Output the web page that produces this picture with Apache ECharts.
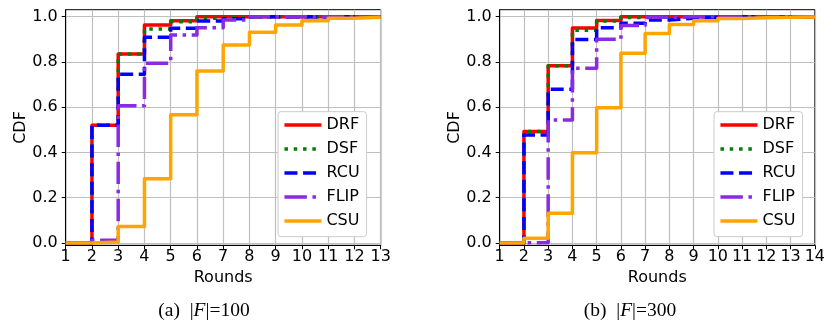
<!DOCTYPE html>
<html>
<head>
<meta charset="utf-8">
<script src="https://cdn.jsdelivr.net/npm/echarts@6/dist/echarts.min.js"></script>
<style>
html,body{margin:0;padding:0;background:#fff;}
#chart{width:828px;height:331px;}
</style>
</head>
<body>
<div id="chart"></div>
<script>
// ---- data ----
const seriesNames = ['DRF', 'DSF', 'RCU', 'FLIP', 'CSU'];
const yTicks = [0, 0.2, 0.4, 0.6, 0.8, 1.0];

// (a) |F|=100
const rounds100 = [1, 2, 3, 4, 5, 6, 7, 8, 9, 10, 11, 12, 13];
const drf100  = [0, 0.520, 0.835, 0.963, 0.982, 1, 1, 1, 1, 1, 1, 1, 1];
const dsf100  = [0, 0.520, 0.835, 0.946, 0.978, 0.993, 1, 1, 1, 1, 1, 1, 1];
const rcu100  = [0, 0.520, 0.746, 0.909, 0.949, 0.981, 0.991, 1, 1, 1, 1, 1, 1];
const flip100 = [0, 0.012, 0.606, 0.794, 0.919, 0.951, 0.985, 1, 1, 1, 1, 1, 1];
const csu100  = [0, 0.004, 0.073, 0.284, 0.566, 0.760, 0.875, 0.931, 0.963, 0.982, 0.993, 0.998, 1];

// (b) |F|=300
const rounds300 = [1, 2, 3, 4, 5, 6, 7, 8, 9, 10, 11, 12, 13, 14];
const drf300  = [0, 0.492, 0.783, 0.950, 0.983, 1, 1, 1, 1, 1, 1, 1, 1, 1];
const dsf300  = [0, 0.492, 0.783, 0.940, 0.981, 0.996, 1, 1, 1, 1, 1, 1, 1, 1];
const rcu300  = [0, 0.477, 0.679, 0.899, 0.951, 0.971, 0.985, 0.993, 0.997, 1, 1, 1, 1, 1];
const flip300 = [0, 0.002, 0.543, 0.772, 0.900, 0.961, 0.997, 1, 1, 1, 1, 1, 1, 1];
const csu300  = [0, 0.021, 0.131, 0.399, 0.597, 0.838, 0.926, 0.965, 0.982, 0.992, 0.995, 0.997, 0.999, 1];

const captionA = '(a)';
const captionB = '(b)';
const sizeA = '100';
const sizeB = '300';

// ---- styles ----
const FONT = 'DejaVu Sans';
const LW = 3.5;
const styles = {
  DRF:  {color: '#ff0000', type: 'solid'},
  DSF:  {color: '#008000', type: [3.5, 5.8]},
  RCU:  {color: '#0000ff', type: [13, 5.6]},
  FLIP: {color: '#8a2be2', type: [22.4, 5.6, 3.5, 5.6]},
  CSU:  {color: '#ffa500', type: 'solid'}
};

function zip(xs, ys) { return xs.map((x, i) => [x, ys[i]]); }

const yMin = -0.0106, yMax = 1.0309;

function makeX(idx, max) {
  return {
    type: 'value', gridIndex: idx, min: 1, max: max, interval: 1,
    name: 'Rounds', nameLocation: 'middle', nameGap: 24,
    nameTextStyle: {fontFamily: FONT, fontSize: 16, color: '#000'},
    axisLine: {show: true, onZero: false, lineStyle: {color: '#000', width: 1}},
    axisTick: {show: true, inside: false, length: 4, lineStyle: {color: '#000', width: 1}},
    axisLabel: {margin: 4, fontFamily: FONT, fontSize: 16, color: '#000'},
    splitLine: {show: true, lineStyle: {color: '#bfbfbf', width: 1.2}}
  };
}
function makeY(idx) {
  return {
    type: 'value', gridIndex: idx, min: yMin, max: yMax,
    name: 'CDF', nameLocation: 'middle', nameGap: 36,
    nameTextStyle: {fontFamily: FONT, fontSize: 16, color: '#000'},
    axisLine: {show: true, onZero: false, lineStyle: {color: '#000', width: 1}},
    axisTick: {show: true, inside: false, length: 4, customValues: yTicks, lineStyle: {color: '#000', width: 1}},
    axisLabel: {margin: 8, customValues: yTicks, fontFamily: FONT, fontSize: 16, color: '#000',
      formatter: v => Number(v).toFixed(1)},
    splitLine: {show: true, lineStyle: {color: '#bfbfbf', width: 1.2}}
  };
}

function makeSeries(idx, rounds, arrs) {
  return seriesNames.map((n, i) => ({
    name: n, type: 'line', step: 'end', xAxisIndex: idx, yAxisIndex: idx,
    symbol: 'none', showSymbol: false, animation: false, clip: true,
    color: styles[n].color,
    lineStyle: {color: styles[n].color, width: LW, type: styles[n].type, cap: 'butt', join: 'round'},
    data: zip(rounds, arrs[i]),
    z: 2 + i
  }));
}

function makeLegend(left) {
  return {
    orient: 'vertical', left: left, top: 111.7,
    data: seriesNames,
    itemWidth: 37, itemHeight: 14, itemGap: 8, itemTextGap: 11.7,
    padding: [5.3, 6.9, 7.7, 4.7],
    backgroundColor: '#ffffff', borderColor: '#cccccc', borderWidth: 1, borderRadius: 3,
    textStyle: {fontFamily: FONT, fontSize: 16, color: '#000'},
    itemStyle: {opacity: 0, borderWidth: 0},
    lineStyle: {width: LW, opacity: 1},
    selectedMode: false
  };
}

const serif = {fontFamily: 'Liberation Serif', fontSize: 19.5, fill: '#000'};
const chart = echarts.init(document.getElementById('chart'), null, {renderer: 'canvas'});
const option = {
  backgroundColor: '#ffffff',
  animation: false,
  grid: [
    {left: 65.7, top: 9.7, width: 315, height: 235.6, show: true, borderColor: '#000', borderWidth: 1, backgroundColor: 'transparent'},
    {left: 499.7, top: 9.7, width: 316.6, height: 235.6, show: true, borderColor: '#000', borderWidth: 1, backgroundColor: 'transparent'}
  ],
  xAxis: [makeX(0, 13), makeX(1, 14)],
  yAxis: [makeY(0), makeY(1)],
  legend: [makeLegend(278), makeLegend(714)],
  series: [].concat(
    makeSeries(0, rounds100, [drf100, dsf100, rcu100, flip100, csu100]),
    makeSeries(1, rounds300, [drf300, dsf300, rcu300, flip300, csu300])
  ),
  graphic: [
    {type: 'text', x: 204, y: 311, style: {
      text: '{n|' + captionA + '  |}{i|F}{n||=' + sizeA + '}',
      align: 'center', verticalAlign: 'middle',
      rich: {n: serif, i: Object.assign({}, serif, {fontStyle: 'italic'})}
    }},
    {type: 'text', x: 630, y: 311, style: {
      text: '{n|' + captionB + '  |}{i|F}{n||=' + sizeB + '}',
      align: 'center', verticalAlign: 'middle',
      rich: {n: serif, i: Object.assign({}, serif, {fontStyle: 'italic'})}
    }}
  ]
};
chart.setOption(option);
</script>
</body>
</html>
